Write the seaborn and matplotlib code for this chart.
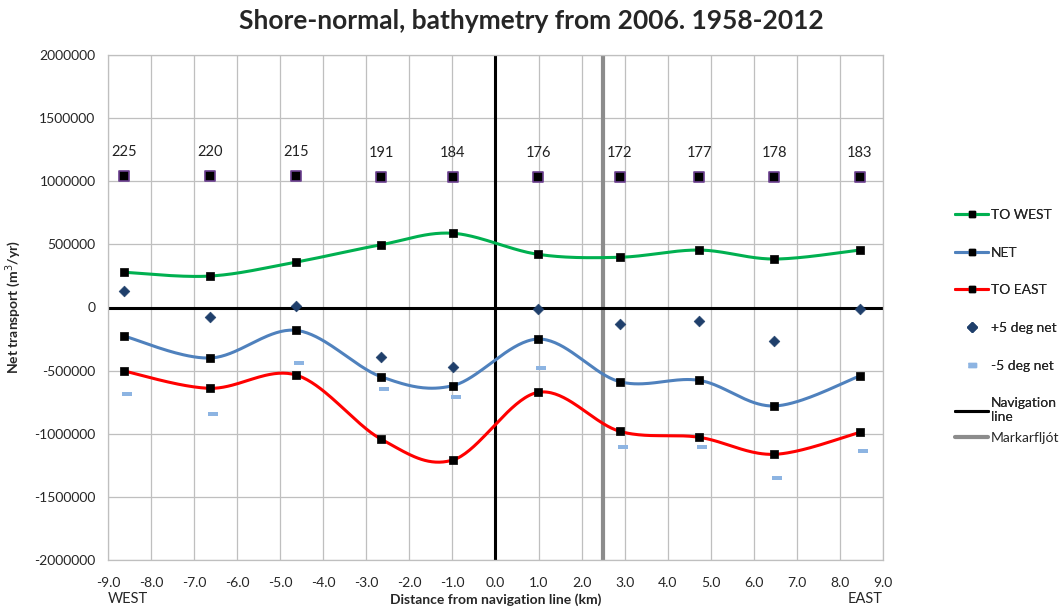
import numpy as np
import pandas as pd
import seaborn as sns
import matplotlib.pyplot as plt
from matplotlib.lines import Line2D

# distance from navigation line (km) for each profile
dist = [-8.63, -6.63, -4.63, -2.66, -0.99, 0.99, 2.89, 4.73, 6.47, 8.46]
dist_minus5 = [-8.56, -6.57, -4.56, -2.59, -0.92, 1.06, 2.96, 4.79, 6.53, 8.53]

to_west = [279000, 249000, 360000, 497000, 588000, 421000, 398000, 455000, 384000, 455000]
net = [-226000, -400000, -181000, -548000, -619000, -250000, -588000, -577000, -780000, -543000]
to_east = [-503000, -640000, -535000, -1042000, -1208000, -672000, -981000, -1028000, -1163000, -989000]
plus5_net = [133000, -73000, 14000, -395000, -469000, -12000, -131000, -104000, -263000, -12000]
minus5_net = [-688000, -841000, -442000, -646000, -706000, -479000, -1107000, -1107000, -1353000, -1139000]

# profile numbers shown along the top
profile_ids = [225, 220, 215, 191, 184, 176, 172, 177, 178, 183]
profile_y = [1045000, 1045000, 1045000, 1037000, 1037000, 1037000, 1033000, 1037000, 1037000, 1037000]

nav_line = 0.0
markarfljot = 2.5

green = '#00B050'
blue = '#4F81BD'
red = '#FF0000'
navy = '#1F3F6B'
light = '#8DB4E2'


def smooth(x, y, n=40):
    # Excel-style smoothed line (bezier through the points)
    pts = np.column_stack([x, y]).astype(float)
    pad = np.vstack([pts[0], pts, pts[-1]])
    t = np.linspace(0, 1, n)[:, None]
    segs = []
    for i in range(len(pts) - 1):
        p0, p1, p2, p3 = pad[i], pad[i + 1], pad[i + 2], pad[i + 3]
        c1 = p1 + (p2 - p0) / 6
        c2 = p2 - (p3 - p1) / 6
        segs.append((1 - t) ** 3 * p1 + 3 * (1 - t) ** 2 * t * c1 + 3 * (1 - t) * t ** 2 * c2 + t ** 3 * p2)
    s = np.vstack(segs)
    return s[:, 0], s[:, 1]


sns.set_style('white')
plt.rcParams['font.family'] = ['Lato', 'DejaVu Sans']

fig = plt.figure(figsize=(10.62, 6.09), dpi=100)
ax = fig.add_axes([108 / 1062, 1 - 560 / 609, 775 / 1062, 505 / 609])

df = pd.DataFrame({'dist': dist, 'west': to_west, 'net': net, 'east': to_east,
                   'p5': plus5_net, 'm5': minus5_net, 'dist_m5': dist_minus5,
                   'pid': profile_ids, 'py': profile_y})

for col, c in [('west', green), ('net', blue), ('east', red)]:
    sx, sy = smooth(df['dist'], df[col])
    ax.plot(sx, sy, color=c, lw=2.2, zorder=3)
    sns.scatterplot(data=df, x='dist', y=col, marker='s', color='black', s=26,
                    edgecolor='black', linewidth=0.5, ax=ax, zorder=4)

sns.scatterplot(data=df, x='dist', y='p5', marker='D', color=navy, s=30,
                edgecolor=navy, ax=ax, zorder=4)
dash = [(-1, -0.45), (1, -0.45), (1, 0.45), (-1, 0.45)]
sns.scatterplot(data=df, x='dist_m5', y='m5', marker=dash, color=light, s=50,
                edgecolor=light, linewidth=0, ax=ax, zorder=4)
sns.scatterplot(data=df, x='dist', y='py', marker='s', color='black', s=55,
                edgecolor='#6B3F8F', linewidth=1.2, ax=ax, zorder=4)
for xi, yi, lab in zip(df['dist'], df['py'], df['pid']):
    ax.annotate(str(lab), (xi, yi), xytext=(0, 12), textcoords='offset points',
                ha='center', va='bottom', fontsize=10.5, color='#222222')

ax.axvline(nav_line, color='black', lw=2.2, zorder=2)
ax.axvline(markarfljot, color='#8C8C8C', lw=3, zorder=2)
ax.axhline(0, color='black', lw=2.2, zorder=2)

ax.set_xlim(-9, 9)
ax.set_ylim(-2000000, 2000000)
ax.set_xticks(np.arange(-9, 9.5, 1.0))
ax.set_xticklabels([f'{v:.1f}' for v in np.arange(-9, 9.5, 1.0)], fontsize=10)
ax.set_yticks(np.arange(-2000000, 2000001, 500000))
ax.set_yticklabels([str(v) for v in range(-2000000, 2000001, 500000)], fontsize=10)
ax.grid(True, color='#BFBFBF', lw=0.9)
ax.set_axisbelow(True)
for sp in ax.spines.values():
    sp.set_color('#BFBFBF')
    sp.set_linewidth(0.9)
ax.tick_params(axis='y', length=0, pad=9)
ax.tick_params(axis='x', length=0, pad=12)

ax.set_xlabel('Distance from navigation line (km)', fontsize=10, fontweight='bold', labelpad=3)
ax.set_ylabel('Net transport (m$^3$/yr)', fontsize=10, fontweight='bold', labelpad=8)
ax.text(0.0, -0.077, 'WEST', transform=ax.transAxes, ha='left', va='center', fontsize=10.5)
ax.text(1.0, -0.077, 'EAST', transform=ax.transAxes, ha='right', va='center', fontsize=10.5)

fig.suptitle('Shore-normal, bathymetry from 2006. 1958-2012', x=0.5, y=0.985,
             fontsize=19, fontweight='bold')

handles = [
    Line2D([], [], color=green, lw=2.2, marker='s', ms=5, mfc='black', mec='black'),
    Line2D([], [], color=blue, lw=2.2, marker='s', ms=5, mfc='black', mec='black'),
    Line2D([], [], color=red, lw=2.2, marker='s', ms=5, mfc='black', mec='black'),
    Line2D([], [], ls='none', marker='D', ms=5, color=navy),
    Line2D([], [], ls='none', marker=dash, ms=6, color=light),
    Line2D([], [], color='black', lw=2.2),
]
labels = ['TO WEST', 'NET', 'TO EAST', '+5 deg net', '-5 deg net', 'Navigation\nline']
leg = fig.legend(handles, labels, loc='upper left', bbox_to_anchor=(948 / 1062, 1 - 202 / 609),
                 frameon=False, fontsize=10, handlelength=2.4, handletextpad=0.2,
                 labelspacing=1.85, borderpad=0)
fig.add_artist(leg)
fig.legend([Line2D([], [], color='#8C8C8C', lw=3)], ['Markarfljót'], loc='upper left',
           bbox_to_anchor=(948 / 1062, 1 - 425 / 609), frameon=False, fontsize=10,
           handlelength=2.4, handletextpad=0.2, borderpad=0)

fig.savefig('out.png', dpi=100)
